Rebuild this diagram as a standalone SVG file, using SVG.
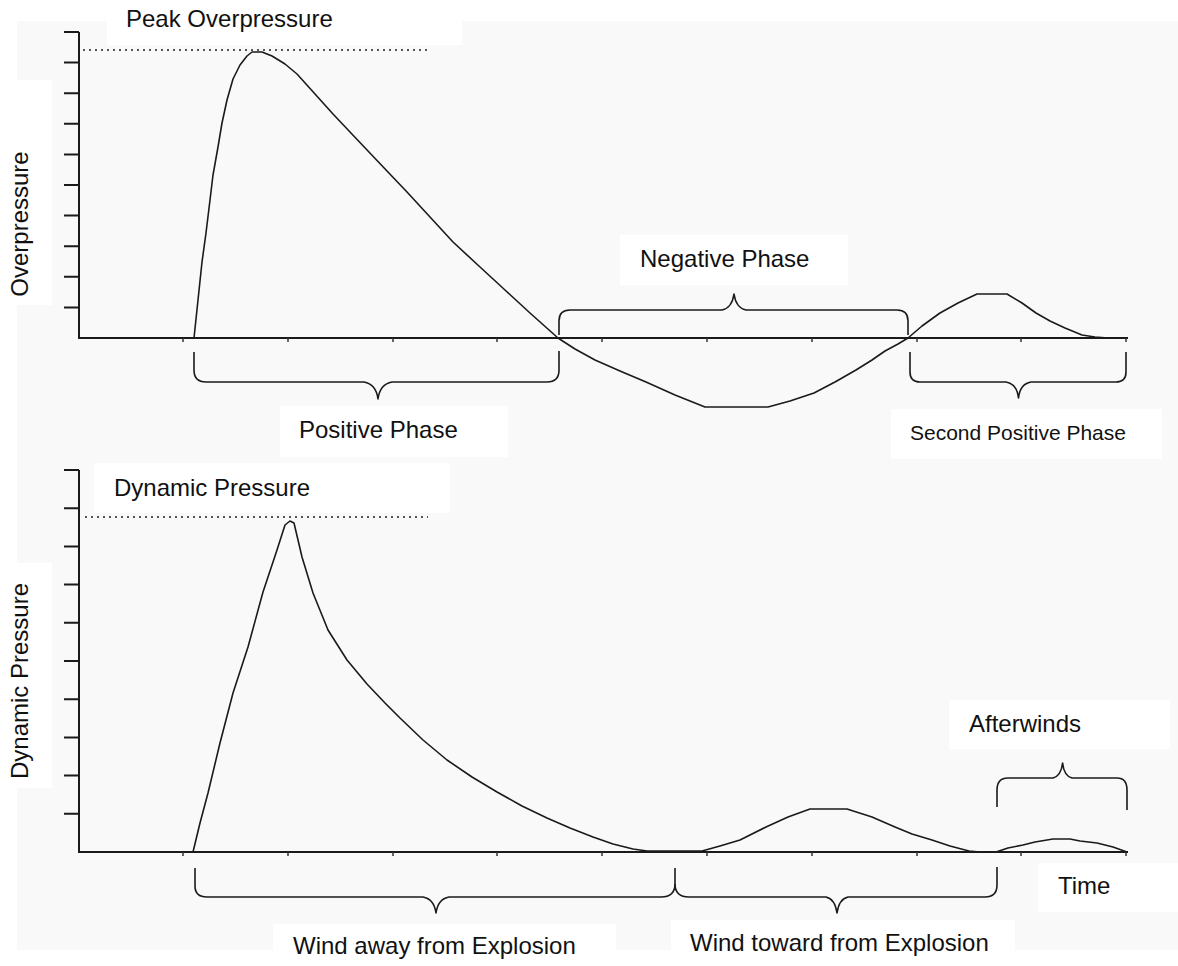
<svg xmlns="http://www.w3.org/2000/svg" width="1178" height="966" viewBox="0 0 1178 966">
<style>
.lbl{font-family:"Liberation Sans",Arial,sans-serif;font-size:24px;fill:#111}
.box{fill:#ffffff}
.axis{stroke:#1a1a1a;stroke-width:2;fill:none}
.tick{stroke:#1a1a1a;stroke-width:2;fill:none}
.xt{stroke:#333;stroke-width:1.5;fill:none}
.curve{stroke:#1a1a1a;stroke-width:1.6;fill:none;stroke-linejoin:round;stroke-linecap:round}
.brace{stroke:#1a1a1a;stroke-width:1.6;fill:none;stroke-linejoin:round}
.dot{stroke:#555;stroke-width:2;stroke-dasharray:2 4;fill:none}
</style>
<rect width="1178" height="966" fill="#ffffff"/>
<rect x="17" y="21" width="1161" height="929" fill="#f9f9f9"/>

<g id="label-boxes">
<rect class="box" x="107" y="0" width="355" height="45"/>
<rect class="box" x="0" y="80" width="52" height="225"/>
<rect class="box" x="620" y="235" width="228" height="50"/>
<rect class="box" x="280" y="406" width="228" height="51"/>
<rect class="box" x="891" y="409" width="271" height="50"/>
<rect class="box" x="94" y="463" width="356" height="50"/>
<rect class="box" x="0" y="563" width="52" height="225"/>
<rect class="box" x="949" y="700" width="221" height="49"/>
<rect class="box" x="1038" y="863" width="140" height="49"/>
<rect class="box" x="273" y="924" width="343" height="42"/>
<rect class="box" x="671" y="920" width="344" height="46"/>
</g>

<g id="top-chart">
<g id="top-axes">
<path class="axis" d="M79,32 V338 H1128"/>
<path class="tick" d="M64,32 H79 M64,62.6 H79 M64,93.2 H79 M64,123.8 H79 M64,154.4 H79 M64,185 H79 M64,215.6 H79 M64,246.2 H79 M64,276.8 H79 M64,307.4 H79"/>
<path class="xt" d="M183,338 v4 M288,338 v4 M393,338 v4 M497,338 v4 M602,338 v4 M707,338 v4 M812,338 v4 M917,338 v4 M1021,338 v4 M1126,338 v4"/>
</g>
<line class="dot" x1="83" y1="50" x2="428" y2="50"/>
<polyline class="curve" points="194,338 198,300 202,262 206,233 210,200 213,175 218,147 222,123 227,100 233,79 240,65 247,56 252,52 262,52 272,56 285,64 297,74 315,94 333,114 350,132 368,151 387,171 407,192 430,217 453,242 480,267 505,290 530,313 558,338"/>
<polyline class="curve" points="558,338 575,349 595,360 620,371 646,382 675,395 705,407 768,407 790,401 814,393 835,382 856,370 872,360 885,351 898,344 908,338"/>
<polyline class="curve" points="908,338 922,326 940,313 958,303 977,294 1007,294 1022,303 1036,313 1050,321 1065,328 1082,335 1095,337 1108,338"/>
</g>

<g id="bottom-chart">
<g id="bottom-axes">
<path class="axis" d="M79,470 V852 H1128"/>
<path class="tick" d="M64,470 H79 M64,508.2 H79 M64,546.4 H79 M64,584.6 H79 M64,622.8 H79 M64,661 H79 M64,699.2 H79 M64,737.4 H79 M64,775.6 H79 M64,813.8 H79"/>
<path class="xt" d="M183,852 v4 M288,852 v4 M393,852 v4 M497,852 v4 M602,852 v4 M707,852 v4 M812,852 v4 M917,852 v4 M1021,852 v4 M1126,852 v4"/>
</g>
<line class="dot" x1="85" y1="517" x2="428" y2="517"/>
<polyline class="curve" points="193,852 200,823 208,793 220,743 233,693 248,647 263,592 277,550 285,525 290,521 294,523 302,557 313,593 328,630 347,660 367,684 385,703 400,718 423,740 447,760 472,777 497,792 522,806 547,818 570,828 593,837 613,844 633,849 647,851 702,851 720,846 740,840 766,827 788,817 810,809 847,809 872,817 895,827 912,834 932,840 950,846 969,851 980,852 996,852 1008,848 1023,845 1035,842 1053,839 1070,839 1080,841 1097,843 1113,847 1127,852"/>
</g>

<g id="connectors">
<path id="brace-positive" class="brace" d="M194,352 V370 Q194,382 206,382 H364 Q376,384 378,399 Q380,384 392,382 H547 Q559,382 559,370 V351"/>
<path id="brace-negative" class="brace" d="M559,335 V321 Q559,310 570,310 H722 Q732,308 734,294 Q736,308 746,310 H897 Q908,310 908,321 V335"/>
<path id="brace-second" class="brace" d="M910,352 V372 Q910,382 920,382 H1006 Q1017,384 1018.5,398 Q1020,384 1031,382 H1116 Q1126,382 1126,372 V352"/>
<path id="brace-away" class="brace" d="M195,868 V886 Q195,897 207,897 H423 Q434,899 436,913 Q438,899 449,897 H661 Q675,897 675,884 V868"/>
<path id="brace-toward" class="brace" d="M675,884 Q675,897 689,897 H826 Q835,899 837,913 Q839,899 848,897 H985 Q997,897 997,885 V867"/>
<path id="brace-afterwinds" class="brace" d="M997,807 V790 Q997,778 1008,778 H1053 Q1061,776 1062.6,763 Q1064,776 1072,778 H1117 Q1127,778 1127,790 V810"/>
</g>

<g id="label-peak"><text class="lbl" x="126" y="27">Peak Overpressure</text></g>
<g id="label-overpressure"><text class="lbl" x="28" y="224" text-anchor="middle" transform="rotate(-90 28 224)">Overpressure</text></g>
<g id="label-negative"><text class="lbl" x="640" y="267">Negative Phase</text></g>
<g id="label-positive"><text class="lbl" x="299" y="438">Positive Phase</text></g>
<g id="label-second"><text class="lbl" x="910" y="440" style="font-size:21px">Second Positive Phase</text></g>
<g id="label-dynamic"><text class="lbl" x="114" y="496">Dynamic Pressure</text></g>
<g id="label-dynamic-axis"><text class="lbl" x="28" y="681" text-anchor="middle" transform="rotate(-90 28 681)">Dynamic Pressure</text></g>
<g id="label-afterwinds"><text class="lbl" x="969" y="732">Afterwinds</text></g>
<g id="label-time"><text class="lbl" x="1058" y="894">Time</text></g>
<g id="label-away"><text class="lbl" x="293" y="954">Wind away from Explosion</text></g>
<g id="label-toward"><text class="lbl" x="690" y="951">Wind toward from Explosion</text></g>
</svg>
